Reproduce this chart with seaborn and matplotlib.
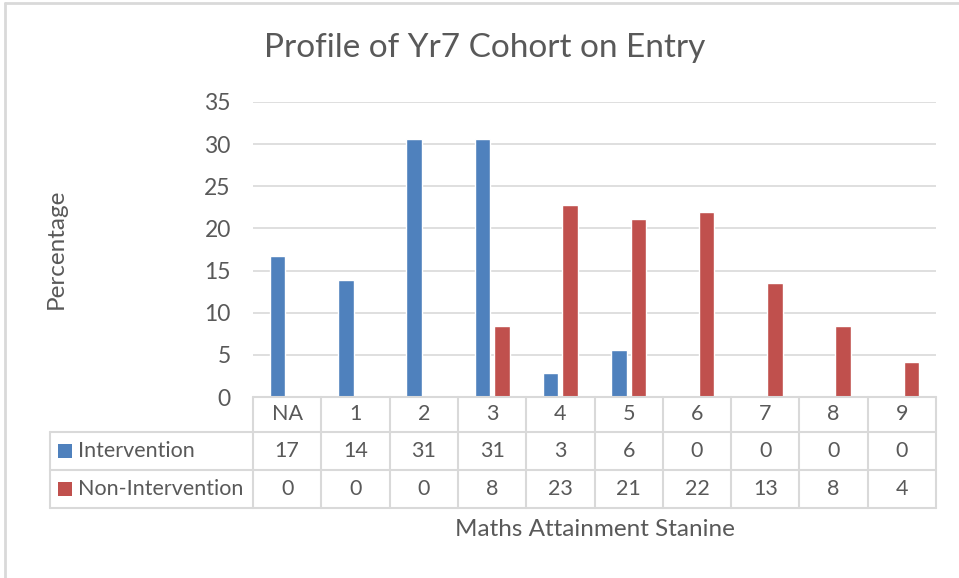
import matplotlib
matplotlib.use("Agg")
import matplotlib.pyplot as plt
import matplotlib.transforms as mtransforms
from matplotlib.lines import Line2D
from matplotlib.patches import Rectangle
import seaborn as sns
import pandas as pd

categories = ["NA", "1", "2", "3", "4", "5", "6", "7", "8", "9"]
intervention = [16.7, 13.9, 30.6, 30.6, 2.8, 5.6, 0, 0, 0, 0]
non_intervention = [0, 0, 0, 8.4, 22.8, 21.1, 21.9, 13.5, 8.4, 4.2]
intervention_table = ["17", "14", "31", "31", "3", "6", "0", "0", "0", "0"]
non_intervention_table = ["0", "0", "0", "8", "23", "21", "22", "13", "8", "4"]
series_names = ["Intervention", "Non-Intervention"]
colors = ["#4F81BD", "#C0504D"]
yticks = [0, 5, 10, 15, 20, 25, 30, 35]

df = pd.DataFrame({
    "cat": categories * 2,
    "val": intervention + non_intervention,
    "series": [series_names[0]] * len(categories) + [series_names[1]] * len(categories),
})

sns.set_theme(style="white")
plt.rcParams["font.family"] = ["Lato", "DejaVu Sans"]

W, H = 959, 578
fig = plt.figure(figsize=(W / 100, H / 100), dpi=100)

def fx(px):
    return px / W

def fy(py):
    return 1 - py / H

ax_left, ax_right, ax_bottom, ax_top = 253, 936, 397, 102
ax = fig.add_axes([fx(ax_left), fy(ax_bottom), fx(ax_right - ax_left), fy(ax_top) - fy(ax_bottom)])

sns.barplot(data=df, x="cat", y="val", hue="series", palette=colors, ax=ax,
            width=0.57, gap=0.2, saturation=1, legend=False, errorbar=None)

ax.set_xlim(-0.5, len(categories) - 0.5)
ax.set_ylim(0, 35)
ax.set_yticks(yticks)
ax.set_yticklabels([str(t) for t in yticks], fontsize=16.5, color="#595959")
ax.tick_params(axis="y", length=0, pad=16)
ax.set_xticks([])
ax.set_xlabel("")
ax.set_ylabel("")
ax.grid(axis="y", color="#d9d9d9", linewidth=1.2)
ax.set_axisbelow(True)
for s in ["left", "right", "top", "bottom"]:
    ax.spines[s].set_visible(False)

tc = "#595959"
lc = "#d9d9d9"
lw = 1.5
fs_table = 15.5

# title and axis labels
fig.text(fx(485), fy(48), "Profile of Yr7 Cohort on Entry", ha="center", va="center",
         fontsize=24, color=tc)
fig.text(fx(56), fy(249), "Percentage", ha="center", va="center", rotation=90,
         fontsize=17.5, color=tc)
fig.text(fx(595), fy(530), "Maths Attainment Stanine", ha="center", va="center",
         fontsize=17.5, color=tc)

# data table
rows_y = [397, 432, 470, 508]
left_col = 50
trans = mtransforms.blended_transform_factory(ax.transData, fig.transFigure)
n = len(categories)

fig.add_artist(Line2D([fx(ax_left), fx(ax_right)], [fy(rows_y[0])] * 2, color=lc, lw=lw))
for yy in rows_y[1:]:
    fig.add_artist(Line2D([fx(left_col), fx(ax_right)], [fy(yy)] * 2, color=lc, lw=lw))
for i in range(n + 1):
    xpx = ax_left + (ax_right - ax_left) * i / n
    fig.add_artist(Line2D([fx(xpx)] * 2, [fy(rows_y[0]), fy(rows_y[3])], color=lc, lw=lw))
fig.add_artist(Line2D([fx(left_col)] * 2, [fy(rows_y[1]), fy(rows_y[3])], color=lc, lw=lw))

def row_center(r):
    return fy((rows_y[r] + rows_y[r + 1]) / 2)

for i, c in enumerate(categories):
    ax.text(i, row_center(0), c, transform=trans, ha="center", va="center", fontsize=fs_table, color=tc)
    ax.text(i, row_center(1), intervention_table[i], transform=trans, ha="center", va="center", fontsize=fs_table, color=tc)
    ax.text(i, row_center(2), non_intervention_table[i], transform=trans, ha="center", va="center", fontsize=fs_table, color=tc)

for r, (name, col) in enumerate(zip(series_names, colors), start=1):
    yc = (rows_y[r] + rows_y[r + 1]) / 2
    fig.add_artist(Rectangle((fx(58), fy(yc + 7)), fx(14), fy(yc - 7) - fy(yc + 7),
                             facecolor=col, edgecolor="none", transform=fig.transFigure))
    fig.text(fx(78), fy(yc), name, ha="left", va="center", fontsize=fs_table, color=tc)

# chart frame (top and left visible)
fig.add_artist(Line2D([fx(4.5), fx(W)], [fy(3)] * 2, color=lc, lw=2))
fig.add_artist(Line2D([fx(4.5)] * 2, [fy(3), fy(H)], color=lc, lw=2))

fig.savefig("out.png", dpi=100, facecolor="white")
